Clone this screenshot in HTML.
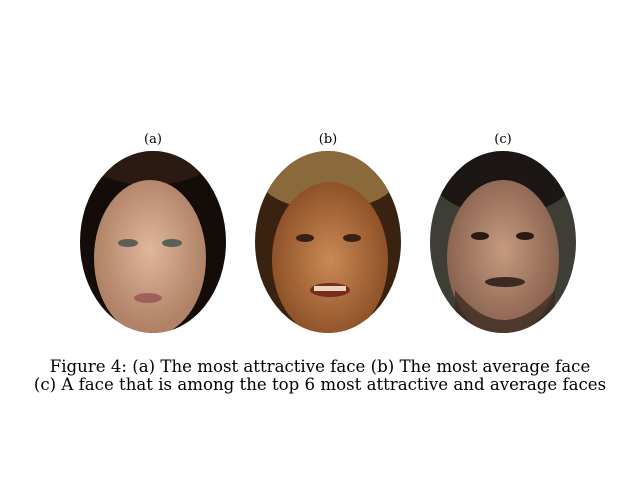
<!DOCTYPE html>
<html><head><meta charset="utf-8"><style>
body{margin:0;background:#fff;width:640px;height:480px;overflow:hidden}
svg{display:block}
text{font-family:"DejaVu Serif","Liberation Serif",serif;fill:#000}
</style></head><body>
<svg width="640" height="480">
<defs>
<clipPath id="ca"><ellipse cx="153" cy="242" rx="73" ry="91"/></clipPath>
<clipPath id="cb"><ellipse cx="328" cy="242" rx="73" ry="91"/></clipPath>
<clipPath id="cc"><ellipse cx="503" cy="242" rx="73" ry="91"/></clipPath>
<radialGradient id="ska" cx="0.5" cy="0.45" r="0.5"><stop offset="0" stop-color="#e0b69c"/><stop offset="1" stop-color="#b08266"/></radialGradient>
<radialGradient id="skb" cx="0.5" cy="0.5" r="0.5"><stop offset="0" stop-color="#c98a56"/><stop offset="1" stop-color="#8f5228"/></radialGradient>
<radialGradient id="skc" cx="0.5" cy="0.45" r="0.5"><stop offset="0" stop-color="#c59a80"/><stop offset="1" stop-color="#8b6450"/></radialGradient>
</defs>
<text x="153" y="143" font-size="13" text-anchor="middle">(a)</text>
<text x="328" y="143" font-size="13" text-anchor="middle">(b)</text>
<text x="503" y="143" font-size="13" text-anchor="middle">(c)</text>
<g clip-path="url(#ca)">
<rect x="80" y="151" width="146" height="182" fill="#140c08"/>
<ellipse cx="150" cy="160" rx="60" ry="25" fill="#2a1a12"/>
<ellipse cx="150" cy="258" rx="56" ry="78" fill="url(#ska)"/>
<ellipse cx="128" cy="243" rx="10" ry="4" fill="#5a6058"/>
<ellipse cx="172" cy="243" rx="10" ry="4" fill="#5a6058"/>
<ellipse cx="148" cy="298" rx="14" ry="5" fill="#a0605a"/>
</g>
<g clip-path="url(#cb)">
<rect x="255" y="151" width="146" height="182" fill="#3a2210"/>
<ellipse cx="328" cy="175" rx="70" ry="35" fill="#8a6a3a"/>
<ellipse cx="330" cy="260" rx="58" ry="78" fill="url(#skb)"/>
<ellipse cx="305" cy="238" rx="9" ry="4" fill="#3a2012"/>
<ellipse cx="352" cy="238" rx="9" ry="4" fill="#3a2012"/>
<ellipse cx="330" cy="290" rx="20" ry="7" fill="#7a2a20"/>
<rect x="314" y="286" width="32" height="5" fill="#e8d8b8"/>
</g>
<g clip-path="url(#cc)">
<rect x="430" y="151" width="146" height="182" fill="#3e3e36"/>
<ellipse cx="503" cy="175" rx="72" ry="40" fill="#1c1614"/>
<ellipse cx="503" cy="258" rx="56" ry="78" fill="url(#skc)"/>
<ellipse cx="480" cy="236" rx="9" ry="4" fill="#2a1a14"/>
<ellipse cx="525" cy="236" rx="9" ry="4" fill="#2a1a14"/>
<path d="M455 290 Q503 350 555 290 L555 340 L455 340 Z" fill="#3a2a22" opacity="0.75"/>
<ellipse cx="505" cy="282" rx="20" ry="5" fill="#3a2a22"/>
</g>
<text x="320" y="372" font-size="16.6" text-anchor="middle">Figure 4: (a) The most attractive face (b) The most average face</text>
<text x="320" y="390" font-size="16.6" text-anchor="middle">(c) A face that is among the top 6 most attractive and average faces</text>
</svg>
</body></html>
